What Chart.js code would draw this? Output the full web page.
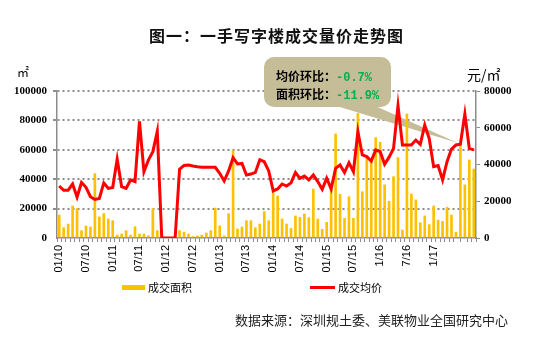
<!DOCTYPE html>
<html>
<head>
<meta charset="utf-8">
<script src="https://cdn.jsdelivr.net/npm/chart.js@4.4.0/dist/chart.umd.min.js"></script>
<style>
    body { margin: 0; background: #fff; }
    #wrap { position: relative; width: 553px; height: 341px; overflow: hidden; font-family: "Noto Sans CJK SC", sans-serif; color: #000; }
    #chart { position: absolute; left: 0; top: 0; }
    .abs { position: absolute; white-space: nowrap; line-height: 1; }
    #title { left: 0; width: 553px; text-align: center; top: 27px; font-size: 16px; font-weight: bold; letter-spacing: 1px; color: #111; }
    #unit-left { left: 17px; top: 66px; font-size: 12px; }
    #unit-right { left: 467px; top: 67px; font-size: 14px; }
    #callout { left: 264px; top: 57px; width: 127px; height: 50px; background: #c4bd97; border-radius: 10px; }
    .note { left: 276px; font-size: 12px; font-weight: bold; }
    .note span { color: #00b050; font-family: "Liberation Mono", monospace; font-size: 12px; }
    .swatch { position: absolute; }
    .legend-text { font-size: 11px; top: 282px; }
    #source { left: 235px; top: 313px; font-size: 13px; color: #222; }
</style>
</head>
<body>
<div id="wrap">
    <canvas id="chart" width="553" height="341"></canvas>
    <div id="title" class="abs">图一：一手写字楼成交量价走势图</div>
    <div id="unit-left" class="abs">㎡</div>
    <div id="unit-right" class="abs">元/㎡</div>
    <div id="callout" class="abs"></div>
    <div class="abs note" style="top:70px">均价环比：<span>-0.7%</span></div>
    <div class="abs note" style="top:88px">面积环比：<span>-11.9%</span></div>
    <div class="swatch" style="left:122px;top:285px;width:23px;height:5px;background:#ffc000"></div>
    <div class="abs legend-text" style="left:148px">成交面积</div>
    <div class="swatch" style="left:310px;top:286px;width:25px;height:3px;background:#ff0000"></div>
    <div class="abs legend-text" style="left:338px">成交均价</div>
    <div id="source" class="abs">数据来源：深圳规土委、美联物业全国研究中心</div>
</div>
<script>
// monthly, 01/2010 .. 10/2017
const tickLabels = ['01/10', '07/10', '01/11', '07/11', '01/12', '07/12', '01/13', '07/13',
    '01/14', '07/14', '01/15', '07/15', '1/16', '7/16', '1/17'];

// 成交面积 (㎡)
const areaValues = [
    15600, 7000, 9500, 21800, 20000, 5000, 8200, 7500, 43800, 14300,
    16600, 12900, 11800, 2000, 2700, 5000, 2000, 7700, 2700, 2700,
    1500, 20000, 5000, 0, 0, 0, 0, 5000, 4000, 2700,
    1000, 1400, 2000, 3400, 5000, 20400, 8200, 1400, 16500, 59400,
    6100, 7500, 11800, 11800, 7000, 9500, 17900, 11800, 32000, 28600,
    12900, 9500, 6500, 15000, 14100, 16300, 13800, 33300, 12900, 5900,
    10700, 33100, 70800, 29700, 13400, 28100, 13400, 84800, 31500, 55000,
    51500, 68300, 65100, 36100, 25000, 41700, 54700, 5400, 84400, 29900,
    25900, 10400, 15000, 9100, 21800, 12200, 11300, 20900, 15600, 4000,
    63300, 36100, 53100, 46900
];

// 成交均价 (元/㎡)
const priceValues = [
    28300, 26000, 26000, 29400, 22300, 30200, 27600, 22500, 21000, 21500,
    30000, 27000, 27500, 43000, 27900, 27000, 31600, 30700, 63500, 36100,
    42400, 47000, 58000, 0, 0, 0, 0, 37400, 39500, 39700,
    39200, 38800, 38500, 38500, 38500, 38500, 35200, 31000, 36500, 43700,
    40300, 40600, 34300, 34800, 35700, 42600, 41500, 36500, 25600, 26700,
    29400, 28300, 30000, 35700, 32500, 33700, 31600, 34300, 30700, 26500,
    32500, 26700, 37900, 39700, 35600, 41000, 36100, 57900, 45200, 44300,
    41900, 47900, 47000, 40100, 44000, 48800, 72000, 50600, 50600, 50600,
    53300, 51000, 61500, 54200, 38800, 39400, 31600, 41500, 48400, 50600,
    51000, 67500, 48800, 48000
];

const categories = [];
for (let y = 2010; categories.length < areaValues.length; y++) {
    for (let m = 1; m <= 12 && categories.length < areaValues.length; m++) {
        categories.push(y + '-' + (m < 10 ? '0' + m : m));
    }
}

// pointer of the callout box, drawn under the series
const calloutPointer = {
    id: 'calloutPointer',
    beforeDatasetsDraw(chart) {
        const x = chart.scales.x;
        const yr = chart.scales.yRight;
        const tipX = x.getPixelForValue(89) + 2;
        const tipY = yr.getPixelForValue(priceValues[89]) - 2;
        const ctx = chart.ctx;
        ctx.save();
        ctx.fillStyle = '#c4bd97';
        ctx.beginPath();
        ctx.moveTo(335, 88);
        ctx.lineTo(tipX, tipY);
        ctx.lineTo(330, 104);
        ctx.closePath();
        ctx.fill();
        ctx.restore();
    }
};

const tickFont = { family: 'Liberation Serif', size: 11, weight: 'bold' };
const plainNumber = (v) => String(v);

new Chart(document.getElementById('chart'), {
    data: {
        labels: categories,
        datasets: [
            {
                type: 'line',
                label: '成交均价',
                data: priceValues,
                yAxisID: 'yRight',
                borderColor: '#ff0000',
                borderWidth: 3,
                pointRadius: 0,
                tension: 0,
                order: 0
            },
            {
                type: 'bar',
                label: '成交面积',
                data: areaValues,
                yAxisID: 'yLeft',
                backgroundColor: '#ffc000',
                barThickness: 2,
                order: 1
            }
        ]
    },
    options: {
        responsive: false,
        animation: false,
        devicePixelRatio: 1,
        layout: { padding: { top: 91, left: 0, right: 0, bottom: 0 } },
        plugins: {
            legend: { display: false },
            title: { display: false },
            tooltip: { enabled: false }
        },
        scales: {
            x: {
                offset: true,
                afterFit: (s) => { s.height = 103; },
                grid: { offset: true, drawOnChartArea: false, drawTicks: true, tickLength: 4, color: '#8c8c8c' },
                border: { color: '#8c8c8c', width: 1.5 },
                ticks: {
                    autoSkip: false,
                    maxRotation: 90,
                    minRotation: 90,
                    padding: 3,
                    color: '#000',
                    font: { family: 'Liberation Sans', size: 11 },
                    callback: (v, i) => (i % 6 === 0 ? tickLabels[i / 6] : '')
                }
            },
            yLeft: {
                position: 'left',
                min: 0,
                max: 100000,
                afterFit: (s) => { s.width = 57; },
                grid: {
                    color: (c) => (c.tick.value === 0 ? 'rgba(0,0,0,0)' : '#8c8c8c'),
                    lineWidth: 2,
                    drawTicks: true,
                    tickLength: 4
                },
                border: { color: '#8c8c8c', width: 1.5, dash: [2, 3] },
                ticks: { stepSize: 20000, padding: 6, color: '#000', font: tickFont, callback: plainNumber }
            },
            yRight: {
                position: 'right',
                min: 0,
                max: 80000,
                afterFit: (s) => { s.width = 77; },
                grid: { drawOnChartArea: false, drawTicks: true, tickLength: 4, color: '#8c8c8c' },
                border: { color: '#8c8c8c', width: 1.5 },
                ticks: { stepSize: 20000, padding: 4, color: '#000', font: tickFont, callback: plainNumber }
            }
        }
    },
    plugins: [calloutPointer]
});
</script>
</body>
</html>
